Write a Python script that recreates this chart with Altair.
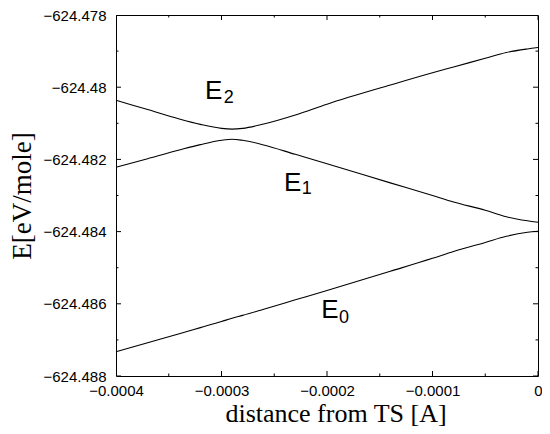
import altair as alt
import pandas as pd

# ---- data ----
x_vals = [-0.0004, -0.00037, -0.00034, -0.00032, -0.0003, -0.00029, -0.00028,
          -0.00026, -0.00023, -0.0002, -0.00014, -0.0001, -0.00008, -0.00005,
          -0.00003, -0.00001, 0.0]

e2 = [-624.48036, -624.48062, -624.48088, -624.48103, -624.48114, -624.48116,
      -624.48114, -624.48102, -624.48077, -624.48047, -624.47994, -624.47960,
      -624.47944, -624.47920, -624.47904, -624.47894, -624.47890]

e1 = [-624.48222, -624.48198, -624.48174, -624.48159, -624.48147, -624.48144,
      -624.48147, -624.48160, -624.48186, -624.48212, -624.48265, -624.48300,
      -624.48318, -624.48341, -624.48359, -624.48370, -624.48374]

e0 = [-624.48733, -624.48708, -624.48683, -624.48666, -624.48649, -624.48640,
      -624.48632, -624.48615, -624.48589, -624.48563, -624.48510, -624.48474,
      -624.48455, -624.48430, -624.48413, -624.48402, -624.48399]

x_major = [-0.0004, -0.0003, -0.0002, -0.0001, 0.0]
x_minor = [-0.00035, -0.00025, -0.00015, -0.00005]
y_major = [-624.488, -624.486, -624.484, -624.482, -624.48, -624.478]
y_minor = [-624.487, -624.485, -624.483, -624.481, -624.479]

X_DOMAIN = [-0.0004, 0.0]
Y_DOMAIN = [-624.488, -624.478]

label_main = ["E", "E", "E"]
label_x = [-0.0003157, -0.0002407, -0.0002054]
label_y = [-624.480337, -624.482882, -624.486395]
label_sub = ["2", "1", "0"]
sub_x = [-0.0002979, -0.000224, -0.0001887]
sub_y = [-624.480448, -624.482965, -624.486533]

# ---- tables ----
n = len(x_vals)
lines_df = pd.DataFrame({
    "x": x_vals * 3,
    "y": e0 + e1 + e2,
    "series": ["E0"] * n + ["E1"] * n + ["E2"] * n,
})

def xticks(vals):
    return pd.DataFrame({"x": [v for v in vals for _ in Y_DOMAIN],
                         "y": [b for _ in vals for b in Y_DOMAIN]})

def yticks(vals):
    return pd.DataFrame({"y": [v for v in vals for _ in X_DOMAIN],
                         "x": [b for _ in vals for b in X_DOMAIN]})

main_df = pd.DataFrame({"x": label_x, "y": label_y, "t": label_main})
sub_df = pd.DataFrame({"x": sub_x, "y": sub_y, "t": label_sub})

xs = alt.Scale(domain=X_DOMAIN, nice=False, zero=False, padding=0)
ys = alt.Scale(domain=Y_DOMAIN, nice=False, zero=False, padding=0)

x_axis = alt.Axis(values=x_major, format=".4~f", title="distance from TS [A]",
                  ticks=False, domain=False, grid=False, labelFlush=False,
                  labelFont="Liberation Sans", labelFontSize=15, labelColor="black",
                  labelPadding=7.5,
                  titleFont="Liberation Serif", titleFontSize=26,
                  titleFontWeight="normal", titleColor="black",
                  titleX=219.5, titleY=45, titleBaseline="alphabetic")
y_axis = alt.Axis(values=y_major, format=".3~f", title="E[eV/mole]",
                  ticks=False, domain=False, grid=False, labelFlush=False,
                  labelFont="Liberation Sans", labelFontSize=15, labelColor="black",
                  labelPadding=10,
                  titleFont="Liberation Serif", titleFontSize=27,
                  titleFontWeight="normal", titleColor="black",
                  titleX=-85.7, titleY=180.5, titleAngle=270,
                  titleBaseline="alphabetic")

lines = alt.Chart(lines_df).mark_line(color="black", strokeWidth=1.1,
                                      interpolate="monotone").encode(
    detail="series:N",
)

def tick_layer(df, orient, size):
    return alt.Chart(df).mark_tick(orient=orient, size=size, thickness=1,
                                   color="black", clip=True, opacity=1)

ticks = [
    tick_layer(xticks(x_major), "vertical", 10),
    tick_layer(xticks(x_minor), "vertical", 5),
    tick_layer(yticks(y_major), "horizontal", 10),
    tick_layer(yticks(y_minor), "horizontal", 5),
]

main_text = alt.Chart(main_df).mark_text(align="left", baseline="alphabetic",
                                         font="Liberation Sans", fontSize=26,
                                         color="black").encode(text="t:N")
sub_text = alt.Chart(sub_df).mark_text(align="left", baseline="alphabetic",
                                       font="Liberation Sans", fontSize=18,
                                       color="black").encode(text="t:N")

chart = alt.layer(lines, *ticks, main_text, sub_text).encode(
    x=alt.X("x:Q", scale=xs, axis=x_axis),
    y=alt.Y("y:Q", scale=ys, axis=y_axis),
).properties(
    width=422, height=361,
    padding={"left": 108, "top": 7, "right": 4, "bottom": 50},
    autosize=alt.AutoSizeParams(type="none"),
    background="white",
).configure_view(stroke="black", strokeWidth=1)

chart.save("out.html", embed_options={"renderer": "svg", "actions": False})
